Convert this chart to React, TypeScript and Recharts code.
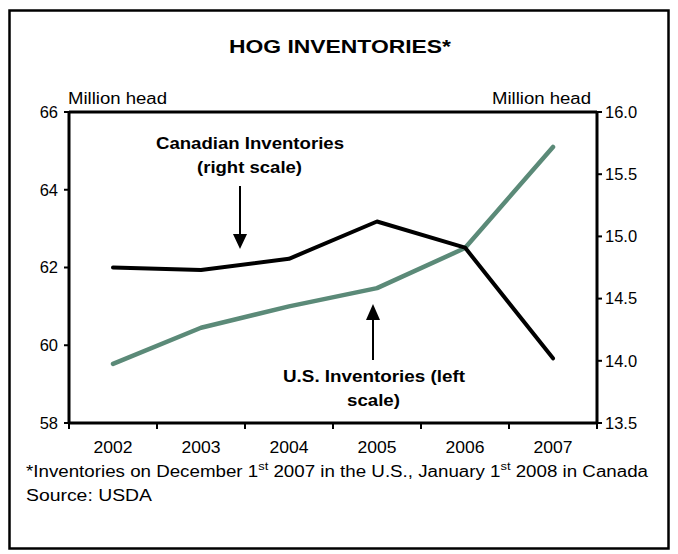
import React from "react";
import { LineChart, Line, XAxis, YAxis, ReferenceLine, Customized } from "recharts";

const years = [2002, 2003, 2004, 2005, 2006, 2007];
const usInventories = [59.52, 60.45, 61.0, 61.47, 62.5, 65.1];
const canadianInventories = [14.75, 14.73, 14.82, 15.12, 14.91, 14.02];
const leftTicks = [58, 60, 62, 64, 66];
const rightTicks = [13.5, 14.0, 14.5, 15.0, 15.5, 16.0];
const boundaryTicks = [2001.5, 2002.5, 2003.5, 2004.5, 2005.5, 2006.5, 2007.5];

const data = years.map((y, i) => ({ year: y, us: usInventories[i], can: canadianInventories[i] }));

const FONT = "'Liberation Sans', Arial, sans-serif";
const GREEN = "#5b8a78";

const XTick = (props: any) => {
  const { x, y, payload } = props;
  const v = payload.value as number;
  if (v >= 2007.5) return null;
  return (
    <text x={x + 44} y={y + 22} textAnchor="middle" fontSize={16} fontFamily={FONT} fill="#000"
      textLength={39} lengthAdjust="spacingAndGlyphs">
      {String(v + 0.5)}
    </text>
  );
};

const Decorations = () => (
  <g fontFamily={FONT} fill="#000">
    <rect x={9.5} y={10.5} width={659} height={538} fill="none" stroke="#000" strokeWidth={2.5} />
    <text x={229} y={53} fontSize={19} fontWeight="bold" textLength={222} lengthAdjust="spacingAndGlyphs">HOG INVENTORIES*</text>
    <text x={68} y={104} fontSize={16} textLength={99} lengthAdjust="spacingAndGlyphs">Million head</text>
    <text x={492} y={104} fontSize={16} textLength={99} lengthAdjust="spacingAndGlyphs">Million head</text>
    <text x={156} y={149} fontSize={16} fontWeight="bold" textLength={188} lengthAdjust="spacingAndGlyphs">Canadian Inventories</text>
    <text x={197} y={173} fontSize={16} fontWeight="bold" textLength={105} lengthAdjust="spacingAndGlyphs">(right scale)</text>
    <line x1={240} y1={186} x2={240} y2={236} stroke="#000" strokeWidth={2} />
    <polygon points="233,234 247,234 240,249" fill="#000" />
    <line x1={373} y1={360} x2={373} y2={318} stroke="#000" strokeWidth={2} />
    <polygon points="366,320 380,320 373,304" fill="#000" />
    <text x={283} y={382} fontSize={16} fontWeight="bold" textLength={182} lengthAdjust="spacingAndGlyphs">U.S. Inventories (left</text>
    <text x={347} y={406} fontSize={16} fontWeight="bold" textLength={53} lengthAdjust="spacingAndGlyphs">scale)</text>
    <text x={26} y={477} fontSize={16} textLength={622} lengthAdjust="spacingAndGlyphs">
      *Inventories on December 1<tspan fontSize={11} dy={-7}>st</tspan>
      <tspan dy={7}> 2007 in the U.S., January 1</tspan>
      <tspan fontSize={11} dy={-7}>st</tspan>
      <tspan dy={7}> 2008 in Canada</tspan>
    </text>
    <text x={26} y={501} fontSize={16} textLength={126} lengthAdjust="spacingAndGlyphs">Source: USDA</text>
  </g>
);

export default function App() {
  return (
    <div style={{ position: "absolute", left: 0, top: 0, background: "#fff" }}>
      <LineChart
        width={678}
        height={554}
        data={data}
        margin={{ top: 112, right: 21, bottom: 101, left: 9 }}
      >
        <XAxis
          dataKey="year"
          type="number"
          domain={[2001.5, 2007.5]}
          ticks={boundaryTicks}
          interval={0}
          tick={<XTick />}
          tickLine={{ stroke: "#000", strokeWidth: 2 }}
          axisLine={{ stroke: "#000", strokeWidth: 3 }}
          tickSize={6}
          height={30}
        />
        <YAxis
          yAxisId="left"
          orientation="left"
          domain={[58, 66]}
          ticks={leftTicks}
          interval={0}
          width={60}
          tick={{ fill: "#000", fontSize: 16.5, fontFamily: FONT }}
          tickLine={{ stroke: "#000", strokeWidth: 2 }}
          axisLine={{ stroke: "#000", strokeWidth: 3 }}
          tickSize={5}
          tickMargin={6}
        />
        <YAxis
          yAxisId="right"
          orientation="right"
          domain={[13.5, 16]}
          ticks={rightTicks}
          interval={0}
          width={60}
          tickFormatter={(v: number) => v.toFixed(1)}
          tick={{ fill: "#000", fontSize: 16.5, fontFamily: FONT }}
          tickLine={{ stroke: "#000", strokeWidth: 2 }}
          axisLine={{ stroke: "#000", strokeWidth: 3 }}
          tickSize={5}
          tickMargin={3}
        />
        <ReferenceLine yAxisId="left" y={66} stroke="#000" strokeWidth={3} />
        <Line
          yAxisId="left"
          dataKey="us"
          stroke={GREEN}
          strokeWidth={4.5}
          dot={false}
          strokeLinecap="round"
          strokeLinejoin="round"
          type="linear"
          isAnimationActive={false}
        />
        <Line
          yAxisId="right"
          dataKey="can"
          stroke="#000"
          strokeWidth={4}
          dot={false}
          strokeLinecap="round"
          strokeLinejoin="round"
          type="linear"
          isAnimationActive={false}
        />
        <Customized component={Decorations} />
      </LineChart>
    </div>
  );
}
